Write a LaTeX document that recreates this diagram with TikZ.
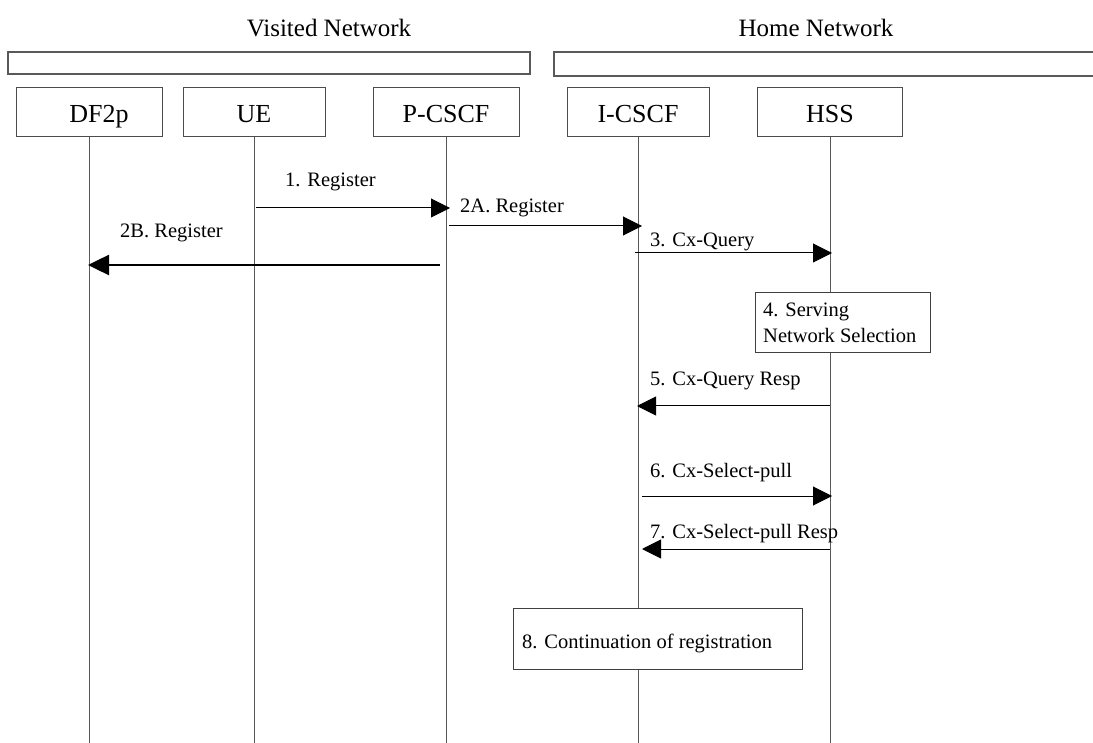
\documentclass[tikz,border=0pt]{standalone}
\usepackage{fontspec}
\setmainfont{Liberation Serif}
\usetikzlibrary{arrows.meta}
\begin{document}
\begin{tikzpicture}[x=1pt,y=-1pt,
  box/.style={draw=black!70, line width=1pt, fill=white, minimum height=49pt, inner sep=0pt, text height=24pt, text depth=3pt, font=\fontsize{26}{30}\selectfont},
  bar/.style={draw=black!65, line width=1.3pt},
  life/.style={draw=black!65, line width=1pt},
  msg/.style={draw=black, line width=1pt, -{Triangle[length=19pt,width=19pt]}},
  bigmsg/.style={draw=black, line width=2.5pt, -{Triangle[length=21pt,width=20pt]}},
  lbl/.style={anchor=base west, inner sep=0pt, font=\fontsize{20.5}{26}\selectfont},
  hdr/.style={anchor=base, inner sep=0pt, font=\fontsize{25}{30}\selectfont},
  note/.style={draw=black!75, line width=1pt, fill=white, anchor=north west, inner sep=0pt, align=left, font=\fontsize{20.5}{26}\selectfont}]
\useasboundingbox (0,0) rectangle (1093,743);
% network headers
\node[hdr] (vn) at (329,37) {Visited Network};
\node[hdr] (hn) at (816,37) {Home Network};
% bars
\draw[bar] (8,52) rectangle (530,74);
\draw[bar] (1094,52) -| (554,76) -- (1094,76);
% entities
\node[box, minimum width=146pt] (df) at (89,112.5) {\hspace*{20pt}DF2p};
\node[box, minimum width=142pt] (ue) at (254,112.5) {UE};
\node[box, minimum width=146pt] (pc) at (446,112.5) {P-CSCF};
\node[box, minimum width=142pt] (ic) at (638,112.5) {I-CSCF};
\node[box, minimum width=145pt] (hs) at (830,112.5) {HSS};
% lifeline ends
\coordinate (dfe) at (89,743);
\coordinate (uee) at (254,743);
\coordinate (pce) at (446,743);
\coordinate (ice) at (638,743);
\coordinate (hse) at (830,743);
\draw[life] (df.south) -- (dfe);
\draw[life] (ue.south) -- (uee);
\draw[life] (pc.south) -- (pce);
\draw[life] (ic.south) -- (ice);
\draw[life] (hs.south) -- (hse);
% 1
\node[lbl] (l1) at (285,187) {1. Register};
\draw[msg] ([xshift=2pt]ue.south |- 0,208) -- ([xshift=4pt]pc.south |- 0,208);
% 2A
\node[lbl] (l2a) at (460,213) {2A. Register};
\draw[msg] ([xshift=3pt]pc.south |- 0,226) -- ([xshift=4pt]ic.south |- 0,226);
% 2B
\node[lbl] (l2b) at (120,238) {2B. Register};
\draw[bigmsg] ([xshift=-6pt]pc.south |- 0,265) -- ([xshift=-1pt]df.south |- 0,265);
% 3
\node[lbl] (l3) at (650,247) {3. Cx-Query};
\draw[msg] ([xshift=-3pt]ic.south |- 0,253) -- ([xshift=2pt]hs.south |- 0,253);
% 4
\node[note, minimum width=175pt, minimum height=60pt] (n4) at (755,292) {};
\node[lbl] (t4a) at (763,317) {4. Serving};
\node[lbl] (t4b) at (763,343) {Network Selection};
% 5
\node[lbl] (l5) at (650,385) {5. Cx-Query Resp};
\draw[msg] (hs.south |- 0,406) -- ([xshift=-1pt]ic.south |- 0,406);
% 6
\node[lbl] (l6) at (650,477) {6. Cx-Select-pull};
\draw[msg] ([xshift=4pt]ic.south |- 0,496) -- ([xshift=2pt]hs.south |- 0,496);
% 7
\node[lbl] (l7) at (650,538) {7. Cx-Select-pull Resp};
\draw[msg] (hs.south |- 0,549) -- ([xshift=4pt]ic.south |- 0,549);
% 8
\node[note, minimum width=289pt, minimum height=61pt] (n8) at (513,608) {};
\node[lbl] (t8) at (522,648) {8. Continuation of registration};
\end{tikzpicture}
\end{document}
